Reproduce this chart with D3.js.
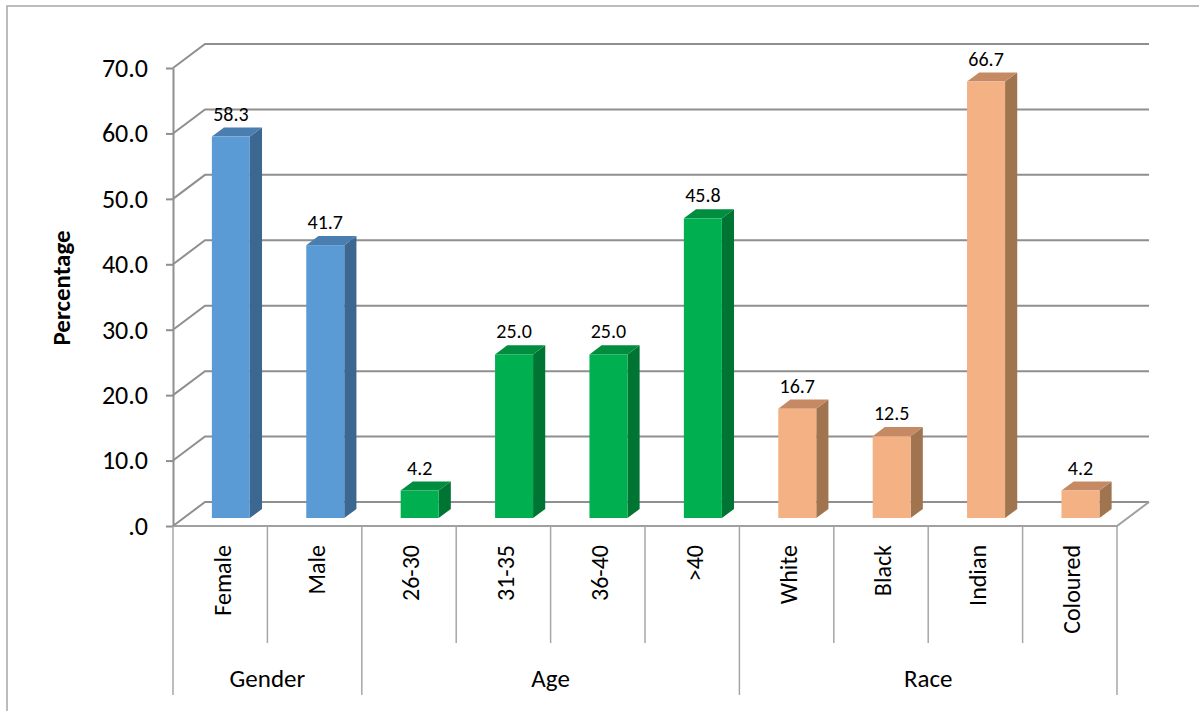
<!DOCTYPE html>
<html>
<head>
<meta charset="utf-8">
<script src="https://cdn.jsdelivr.net/npm/d3@7"></script>
<style>
  html, body { margin: 0; padding: 0; background: #fff; }
  svg { display: block; font-family: Carlito, Calibri, Lato, sans-serif; }
</style>
</head>
<body>
<svg id="chart" width="1199" height="711"></svg>
<script>
// Respondent profile: share of each group (%)
const groups = ["Gender", "Age", "Race"];
const categories = ["Female", "Male", "26-30", "31-35", "36-40", ">40", "White", "Black", "Indian", "Coloured"];
const categoryGroup = ["Gender", "Gender", "Age", "Age", "Age", "Age", "Race", "Race", "Race", "Race"];
const values = [58.3, 41.7, 4.2, 25.0, 25.0, 45.8, 16.7, 12.5, 66.7, 4.2];
const yTicks = [0, 10, 20, 30, 40, 50, 60, 70];
const yTitle = "Percentage";

// shading for each group: front face, top face, side face
const groupColors = {
  Gender: { face: "#5b9bd5", top: "#4a7db0", side: "#3b6791" },
  Age:    { face: "#00b050", top: "#008d40", side: "#007432" },
  Race:   { face: "#f4b183", top: "#c58a63", side: "#a0744f" }
};

const svg = d3.select("#chart");

// plot frame (front plane) and 3D depth offset
const plotLeft = 173, plotRight = 1117, plotBottom = 526, plotTop = 68;
const depthX = 32, depthY = -24;

const x = d3.scaleBand().domain(categories).range([plotLeft, plotRight]).padding(0);
const y = d3.scaleLinear().domain([0, 70]).range([plotBottom, plotTop]);

// outer chart border
svg.append("rect")
  .attr("x", 7).attr("y", 6).attr("width", 1220).attr("height", 740)
  .attr("fill", "none").attr("stroke", "#a6a6a6").attr("stroke-width", 1.5);

const grid = svg.append("g").attr("stroke", "#8f8f8f").attr("stroke-width", 2).attr("fill", "none");

// gridlines: diagonal across the side wall, then along the back wall
grid.selectAll("path.grid").data(yTicks).join("path")
  .attr("class", "grid")
  .attr("d", d => {
    const yy = y(d);
    return `M${plotLeft},${yy}L${plotLeft + depthX},${yy + depthY}L${plotRight + depthX},${yy + depthY}`;
  });

// floor front edge and its right-hand diagonal
grid.append("path")
  .attr("stroke", "#a0a0a0")
  .attr("d", `M${plotLeft},${plotBottom}L${plotRight},${plotBottom}L${plotRight + depthX},${plotBottom + depthY}`);

// value axis
const yAxis = d3.axisLeft(y)
  .tickValues(yTicks)
  .tickSize(7)
  .tickSizeOuter(0)
  .tickPadding(18)
  .tickFormat(d => d === 0 ? ".0" : d.toFixed(1));

const axisG = svg.append("g").attr("transform", `translate(${plotLeft},0)`).call(yAxis);
axisG.select(".domain").attr("stroke", "#8f8f8f").attr("stroke-width", 2);
axisG.selectAll(".tick line").attr("stroke", "#8f8f8f").attr("stroke-width", 2);
axisG.selectAll(".tick text")
  .attr("font-size", 26)
  .attr("fill", "#000")
  .style("font-family", "Carlito, Calibri, Lato, sans-serif");

// 3D bars sit a third of the way into the floor depth
const bw = 38;
const f0 = 1 / 3, fd = 0.38;
const ox = depthX * f0, oy = depthY * f0;
const bx = depthX * fd, by = depthY * fd;

const bars = svg.append("g").selectAll("g.bar")
  .data(categories.map((c, i) => ({ c, v: values[i], g: categoryGroup[i] })))
  .join("g").attr("class", "bar");

bars.each(function (d) {
  const g = d3.select(this);
  const col = groupColors[d.g];
  const x0 = x(d.c) + x.bandwidth() / 2 - bw / 2 + ox;
  const x1 = x0 + bw;
  const y0 = y(0) + oy;
  const yt = y(d.v) + oy;
  // side face
  g.append("path").attr("fill", col.side)
    .attr("d", `M${x1},${y0}L${x1 + bx},${y0 + by}L${x1 + bx},${yt + by}L${x1},${yt}Z`);
  // top face
  g.append("path").attr("fill", col.top)
    .attr("d", `M${x0},${yt}L${x0 + bx},${yt + by}L${x1 + bx},${yt + by}L${x1},${yt}Z`);
  // front face
  g.append("rect").attr("fill", col.face)
    .attr("x", x0).attr("y", yt).attr("width", bw).attr("height", y0 - yt);
  // value label
  g.append("text")
    .attr("x", (x0 + x1) / 2).attr("y", yt - 16)
    .attr("text-anchor", "middle").attr("font-size", 20).attr("fill", "#000")
    .text(d.v.toFixed(1));
});

// category separators below the floor
const sepColor = "#a6a6a6";
const boundaries = d3.range(categories.length + 1);
svg.append("g").selectAll("line").data(boundaries).join("line")
  .attr("x1", i => plotLeft + i * x.step()).attr("x2", i => plotLeft + i * x.step())
  .attr("y1", plotBottom)
  .attr("y2", i => {
    if (i === 0 || i === categories.length) return 695;
    return categoryGroup[i] !== categoryGroup[i - 1] ? 695 : 643;
  })
  .attr("stroke", sepColor).attr("stroke-width", 1.5);

// category labels, rotated
svg.append("g").selectAll("text").data(categories).join("text")
  .attr("transform", d => `translate(${x(d) + x.bandwidth() / 2 + 2},545) rotate(-90)`)
  .attr("dy", "0.35em")
  .attr("text-anchor", "end")
  .attr("font-size", 24)
  .attr("fill", "#000")
  .text(d => d);

// group labels
svg.append("g").selectAll("text").data(groups).join("text")
  .attr("x", g => {
    const idx = categories.map((c, i) => i).filter(i => categoryGroup[i] === g);
    return (x(categories[idx[0]]) + x(categories[idx[idx.length - 1]]) + x.bandwidth()) / 2;
  })
  .attr("y", 687)
  .attr("text-anchor", "middle")
  .attr("font-size", 25)
  .attr("fill", "#000")
  .text(g => g);

// value axis title
svg.append("text")
  .attr("transform", "translate(61,288) rotate(-90)")
  .attr("dy", "0.35em")
  .attr("text-anchor", "middle")
  .attr("font-size", 25)
  .attr("font-weight", "bold")
  .attr("fill", "#000")
  .text(yTitle);
</script>
</body>
</html>
